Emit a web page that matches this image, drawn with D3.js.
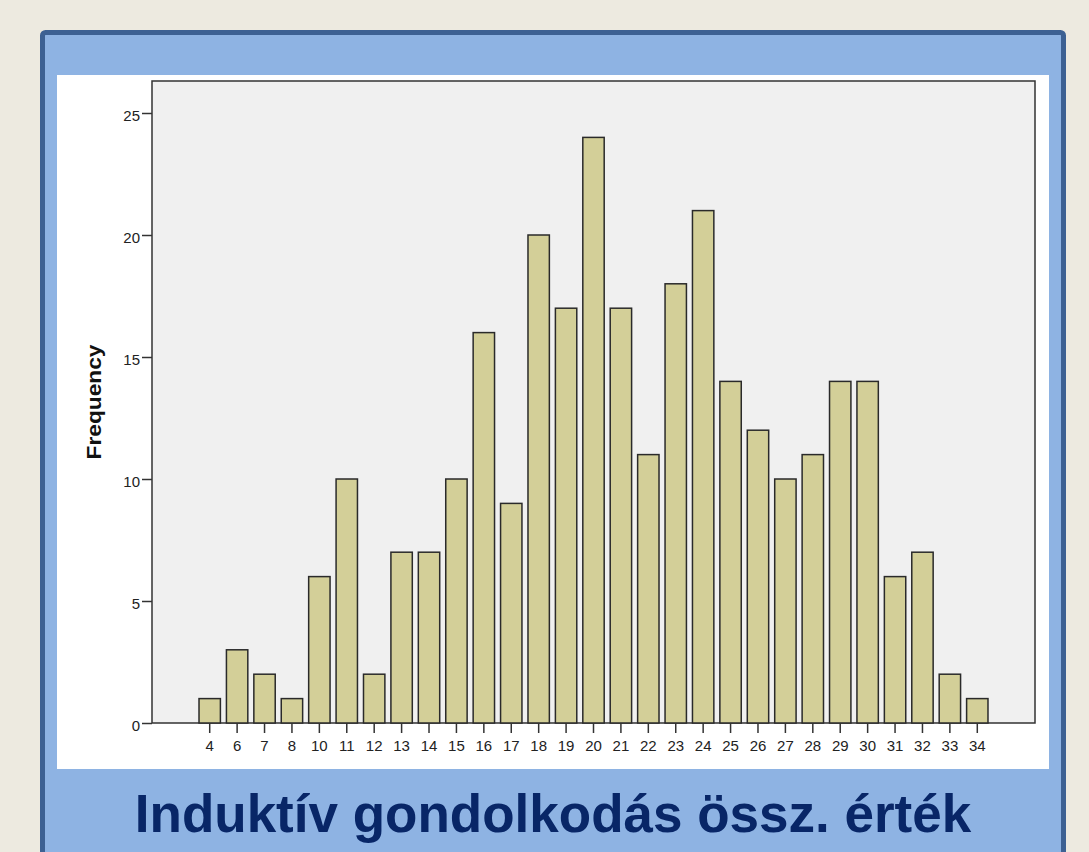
<!DOCTYPE html>
<html lang="hu">
  <head>
    <meta charset="UTF-8" />
    <title>Induktív gondolkodás össz. érték</title>
    <script src="https://d3js.org/d3.v7.min.js"></script>
    <style>
      body {
        margin: 0;
        padding: 0;
        background-color: #edeae0;
        overflow: hidden;
      }
      .tick text {
        font-family: "Liberation Sans", Arial, sans-serif;
        font-size: 15px;
        fill: #222;
      }
    </style>
  </head>
  <body>
    <div id="chart"></div>

    <script>
      const width = 1089;
      const height = 852;

      // score values and their frequencies
      const scores = ["4", "6", "7", "8", "10", "11", "12", "13", "14", "15", "16", "17", "18", "19", "20", "21", "22", "23", "24", "25", "26", "27", "28", "29", "30", "31", "32", "33", "34"];
      const frequencies = [1, 3, 2, 1, 6, 10, 2, 7, 7, 10, 16, 9, 20, 17, 24, 17, 11, 18, 21, 14, 12, 10, 11, 14, 14, 6, 7, 2, 1];
      const yTicks = [0, 5, 10, 15, 20, 25];

      const svg = d3.select("#chart").append("svg").attr("width", width).attr("height", height);

      // slide frame
      svg.append("rect").attr("x", 42.5).attr("y", 32.5).attr("width", 1021).attr("height", 840).attr("rx", 3).attr("fill", "#8eb3e3").attr("stroke", "#3d6193").attr("stroke-width", 5);
      svg.append("rect").attr("x", 57).attr("y", 75).attr("width", 992).attr("height", 694).attr("fill", "#fff");

      // plot box
      const plot = { left: 152, top: 81, right: 1035, bottom: 723 };
      svg.append("rect").attr("x", plot.left).attr("y", plot.top).attr("width", plot.right - plot.left).attr("height", plot.bottom - plot.top).attr("fill", "#f0f0f0").attr("stroke", "#333").attr("stroke-width", 1.5);

      const x = d3.scaleBand().domain(scores).range([196, 991]).paddingInner(0.22).paddingOuter(0.11);
      const y = d3.scaleLinear().domain([0, 25]).range([plot.bottom, plot.bottom - 25 * 24.4]);

      svg
        .append("g")
        .selectAll("rect")
        .data(scores)
        .enter()
        .append("rect")
        .attr("x", (d) => x(d))
        .attr("y", (d, i) => y(frequencies[i]))
        .attr("width", x.bandwidth())
        .attr("height", (d, i) => y(0) - y(frequencies[i]))
        .attr("fill", "#d3cf98")
        .attr("stroke", "#2a2a2a")
        .attr("stroke-width", 1.5);

      const yAxis = svg
        .append("g")
        .attr("transform", `translate(${plot.left},0)`)
        .call(d3.axisLeft(y).tickValues(yTicks).tickSize(10).tickPadding(2));
      yAxis.select(".domain").remove();
      yAxis.selectAll(".tick line").attr("stroke", "#333").attr("stroke-width", 1.5);
      yAxis.selectAll(".tick text").attr("dy", "0.5em");

      const xAxis = svg
        .append("g")
        .attr("transform", `translate(0,${plot.bottom})`)
        .call(d3.axisBottom(x).tickSize(10).tickPadding(7));
      xAxis.select(".domain").remove();
      xAxis.selectAll(".tick line").attr("stroke", "#333").attr("stroke-width", 1.5);

      svg
        .append("text")
        .attr("transform", `translate(101,${(plot.top + plot.bottom) / 2}) rotate(-90)`)
        .attr("text-anchor", "middle")
        .attr("font-family", "Liberation Sans, Arial, sans-serif")
        .attr("font-weight", "bold")
        .attr("font-size", 21)
        .attr("textLength", 115)
        .attr("lengthAdjust", "spacingAndGlyphs")
        .attr("fill", "#111")
        .text("Frequency");

      svg
        .append("text")
        .attr("x", 553)
        .attr("y", 832)
        .attr("text-anchor", "middle")
        .attr("font-family", "Liberation Sans, Arial, sans-serif")
        .attr("font-weight", "bold")
        .attr("font-size", 53)
        .attr("fill", "#082667")
        .text("Induktív gondolkodás össz. érték");
    </script>
  </body>
</html>
